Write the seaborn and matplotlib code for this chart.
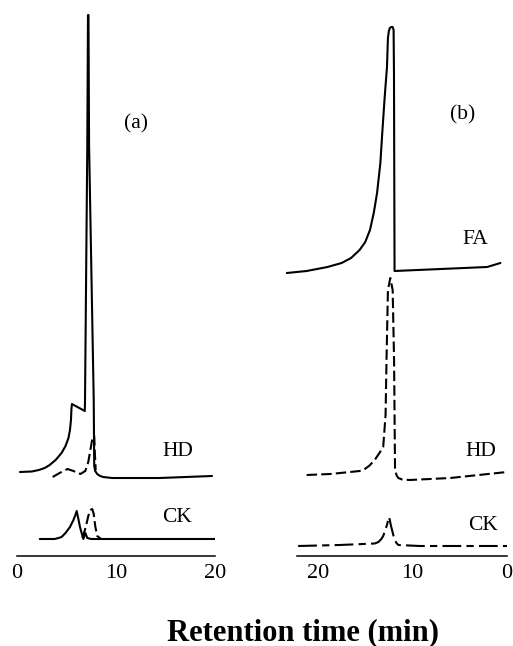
import numpy as np
import matplotlib
matplotlib.use("Agg")
import matplotlib.pyplot as plt
import seaborn as sns

# --- panel (a): retention time (min) and detector signal above each trace baseline
a_hd_t = [0.3, 1.5, 2.2, 2.8, 3.3, 3.9, 4.5, 4.9, 5.2, 5.35, 5.45, 5.5, 5.55,
          6.85, 6.87, 7.1, 7.17, 7.22, 7.28, 7.75, 7.8, 7.9, 8.1, 8.4, 8.7, 9.6, 14.4, 19.7]
a_hd_sig = [0, 0.5, 2, 4, 7, 12, 19, 26, 34, 42, 52, 63, 68,
            61, 72, 327, 457, 457, 327, 72, 6, 1, -2, -4, -5, -6, -6, -4]

a_hd2_t = [3.6, 4.3, 5.1, 5.7, 6.4, 6.9, 7.2, 7.5, 7.65, 7.8, 7.85, 7.95]
a_hd2_sig = [-5, -1, 3, 1, -2, 1, 10, 27, 36, 36, 22, 2]

a_ck_t = [2.3, 3.8, 4.2, 4.5, 4.9, 5.35, 5.7, 5.9, 6.03, 6.2, 6.36, 6.7, 6.9, 7.1, 7.5, 20.0]
a_ck_sig = [0, 0, 1, 2, 6, 12, 19, 24, 28, 20, 12, 0, 6, 1, 0, 0]

a_ck2_t = [6.6, 6.95, 7.2, 7.4, 7.6, 7.75, 7.9, 8.1, 8.5]
a_ck2_sig = [1, 12, 23, 29, 30, 25, 13, 3, 0]

# --- panel (b)
b_fa_t = [23.3, 21.2, 19.0, 17.5, 16.5, 15.6, 15.0, 14.5, 14.1, 13.75, 13.4, 13.2, 12.95,
          12.7, 12.6, 12.5, 12.4, 12.25, 12.1, 12.0, 11.96, 11.9, 2.1, 0.7]
b_fa_sig = [0, 2, 6, 10, 15, 23, 31, 43, 60, 80, 110, 140, 175,
            206, 235, 242, 245, 246, 246, 243, 200, 2, 6, 10]

b_hd_t = [21.2, 18.7, 16.6, 15.6, 15.2, 14.6, 14.0, 13.5, 13.1, 12.85, 12.75, 12.6, 12.35,
          12.1, 11.95, 11.85, 11.7, 11.5, 11.1, 10.3, 6.0, 0.0]
b_hd_sig = [0, 1, 3, 4, 5, 9, 15, 22, 28, 60, 115, 185, 197,
            185, 115, 7, 0, -3, -4.5, -5, -3, 3]

b_ck_t = [22.1, 17.7, 14.0, 13.6, 13.3, 13.1, 12.7, 12.5, 12.4, 12.3, 11.95, 11.7, 11.5, 9.2, 0.0]
b_ck_sig = [0, 1, 2.5, 4, 7, 10, 21, 29, 26, 21, 8, 3, 1, 0, 0]

ticks = [0, 10, 20]
tick_labels = ["0", "10", "20"]

# vertical stacking of the traces
off = {"a_hd": 84, "a_ck": 17, "b_fa": 283, "b_hd": 81, "b_ck": 10}

sns.set_style("white")
plt.rcParams['font.family'] = ['Liberation Serif', 'DejaVu Serif']
plt.rcParams['text.color'] = 'black'

W, H = 513, 646
fig = plt.figure(figsize=(W / 100, H / 100), dpi=100)

bottom = (H - 556) / H
height = 546 / H
ax_a = fig.add_axes([17 / W, bottom, 198 / W, height])
ax_b = fig.add_axes([(507 - 23.5 * 9.45) / W, bottom, 23.5 * 9.45 / W, height])

dash = (0, (5, 2))
dashdot = (0, (9, 2.5, 3.5, 2.5))
lw = 1.5


def trace(ax, t, sig, offset, ls):
    y = np.asarray(sig, dtype=float) + offset
    sns.lineplot(x=t, y=y, ax=ax, color="black", linewidth=lw, linestyle=ls,
                 sort=False, estimator=None)


trace(ax_a, a_hd_t, a_hd_sig, off["a_hd"], "-")
trace(ax_a, a_hd2_t, a_hd2_sig, off["a_hd"], dash)
trace(ax_a, a_ck_t, a_ck_sig, off["a_ck"], "-")
trace(ax_a, a_ck2_t, a_ck2_sig, off["a_ck"], dash)

trace(ax_b, b_fa_t, b_fa_sig, off["b_fa"], "-")
trace(ax_b, b_hd_t, b_hd_sig, off["b_hd"], dash)
trace(ax_b, b_ck_t, b_ck_sig, off["b_ck"], dashdot)

ax_a.set_xlim(0, 20)
ax_b.set_xlim(23.5, 0)
ax_b.spines['bottom'].set_bounds(22.2, 0)

for ax in (ax_a, ax_b):
    ax.set_ylim(0, 546)
    ax.set_facecolor("none")
    for s in ("left", "right", "top"):
        ax.spines[s].set_visible(False)
    ax.spines['bottom'].set_color("black")
    ax.spines['bottom'].set_linewidth(1.1)
    ax.set_yticks([])
    ax.set_xticks(ticks)
    ax.set_xticklabels(tick_labels)
    ax.tick_params(axis='x', direction='in', length=4, width=1.1, pad=6,
                   labelsize=16, colors="black")
    ax.set_xlabel("")
    ax.set_ylabel("")

txt = dict(fontsize=15.5, ha="center", va="center", color="black")
ax_a.text(12.0, 432, "(a)", **txt)
ax_a.text(16.2, 104, "HD", **txt)
ax_a.text(16.2, 39, "CK", **txt)
ax_b.text(4.66, 441, "(b)", **txt)
ax_b.text(3.4, 316, "FA", **txt)
ax_b.text(2.75, 104, "HD", **txt)
ax_b.text(2.5, 30, "CK", **txt)

fig.text(303 / W, 6 / H, "Retention time (min)", ha="center", va="baseline",
         fontsize=22, fontweight="bold", color="black")

fig.savefig("out.png", dpi=100)
